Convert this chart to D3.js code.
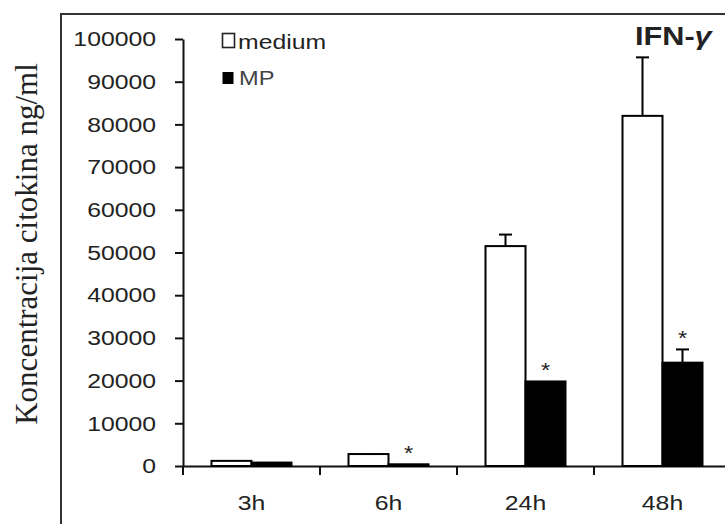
<!DOCTYPE html>
<html>
<head>
<meta charset="utf-8">
<script src="https://cdn.jsdelivr.net/npm/d3@7"></script>
<style>
  body { margin: 0; background: #fff; }
  text { font-family: Arial, "Liberation Sans", sans-serif; fill: #222; }
</style>
</head>
<body>
<div id="chart"></div>
<script>
// ------------------------------------------------------------------------ //
// DATA
// ------------------------------------------------------------------------ //
var categories = ["3h", "6h", "24h", "48h"]
var series = ["medium", "MP"]
var mediumValues = [1200, 2800, 51500, 82000]
var mediumErrors = [200, 200, 2700, 13700]
var mpValues = [800, 400, 19800, 24200]
var mpErrors = [100, 100, 0, 3100]
var mpSignificant = [false, true, true, true]
var yTicks = [0, 10000, 20000, 30000, 40000, 50000, 60000, 70000, 80000, 90000, 100000]

// table for the bars
var bars = []
categories.forEach(function(c, i) {
  bars.push({cat: c, key: "medium", value: mediumValues[i], err: mediumErrors[i], star: false})
  bars.push({cat: c, key: "MP", value: mpValues[i], err: mpErrors[i], star: mpSignificant[i]})
})

// horizontal stretch of the original picture
var sx = 1.18

// ------------------------------------------------------------------------ //
// SVG AREA
// ------------------------------------------------------------------------ //
var W = 725, H = 524
var svg = d3.select("#chart")
  .append("svg")
    .attr("width", W)
    .attr("height", H)

// outer frame (runs off the picture on the right and bottom)
svg.append("rect")
  .attr("x", 61)
  .attr("y", 14)
  .attr("width", 720)
  .attr("height", 560)
  .attr("fill", "none")
  .attr("stroke", "#333")
  .attr("stroke-width", 2)

// ------------------------------------------------------------------------ //
// SCALES
// ------------------------------------------------------------------------ //
var x = d3.scaleBand()
  .domain(categories)
  .range([183, 731])

var xSub = d3.scaleBand()
  .domain(series)
  .range([0, x.bandwidth()])
  .paddingOuter(0.7125)

var y = d3.scaleLinear()
  .domain([0, 100000])
  .range([466, 39])

// ------------------------------------------------------------------------ //
// AXES
// ------------------------------------------------------------------------ //
var yAxis = svg.append("g")
  .attr("transform", "translate(183,0)")
  .call(d3.axisLeft(y).tickValues(yTicks).tickFormat(d3.format("d")).tickSize(8).tickSizeOuter(0))
yAxis.selectAll("path, line").attr("stroke", "#111").attr("stroke-width", 2)
yAxis.selectAll("text")
  .attr("x", 0)
  .attr("transform", "translate(-27,0) scale(" + sx + ",1)")
  .style("font-size", "21px")
  .attr("fill", "#222")

var xAxis = svg.append("g")
  .attr("transform", "translate(0,466)")
  .call(d3.axisBottom(x).tickSize(0).tickSizeOuter(0))
xAxis.select(".domain").attr("stroke", "#111").attr("stroke-width", 2)
xAxis.selectAll("text")
  .attr("y", 0)
  .attr("dy", 0)
  .attr("transform", "translate(0,44) scale(" + sx + ",1)")
  .style("font-size", "21px")
  .attr("fill", "#222")

// tick marks between the groups
xAxis.selectAll(".sepTick")
  .data(categories)
  .enter()
  .append("line")
    .attr("class", "sepTick")
    .attr("x1", function(d) { return x(d) })
    .attr("x2", function(d) { return x(d) })
    .attr("y1", 0)
    .attr("y2", 9)
    .attr("stroke", "#111")
    .attr("stroke-width", 2)

// ------------------------------------------------------------------------ //
// BARS, ERROR BARS, STARS
// ------------------------------------------------------------------------ //
var cx = function(d) { return x(d.cat) + xSub(d.key) + xSub.bandwidth() / 2 }

svg.selectAll(".bar")
  .data(bars)
  .enter()
  .append("rect")
    .attr("class", "bar")
    .attr("x", function(d) { return x(d.cat) + xSub(d.key) })
    .attr("y", function(d) { return y(d.value) })
    .attr("width", xSub.bandwidth())
    .attr("height", function(d) { return y(0) - y(d.value) })
    .attr("fill", function(d) { return d.key == "MP" ? "#000" : "#fff" })
    .attr("stroke", "#000")
    .attr("stroke-width", 2)

var errs = bars.filter(function(d) { return d.err > 0 })

svg.selectAll(".errLine")
  .data(errs)
  .enter()
  .append("line")
    .attr("class", "errLine")
    .attr("x1", cx)
    .attr("x2", cx)
    .attr("y1", function(d) { return y(d.value) })
    .attr("y2", function(d) { return y(d.value + d.err) })
    .attr("stroke", "#000")
    .attr("stroke-width", 2)

svg.selectAll(".errCap")
  .data(errs.filter(function(d) { return d.err > 1000 }))
  .enter()
  .append("line")
    .attr("class", "errCap")
    .attr("x1", function(d) { return cx(d) - 6.5 })
    .attr("x2", function(d) { return cx(d) + 6.5 })
    .attr("y1", function(d) { return y(d.value + d.err) })
    .attr("y2", function(d) { return y(d.value + d.err) })
    .attr("stroke", "#000")
    .attr("stroke-width", 2)

svg.selectAll(".star")
  .data(bars.filter(function(d) { return d.star }))
  .enter()
  .append("text")
    .attr("class", "star")
    .attr("text-anchor", "middle")
    .attr("transform", function(d) {
      return "translate(" + cx(d) + "," + (y(d.value + d.err) - 4) + ") scale(" + sx + ",1)"
    })
    .style("font-size", "20px")
    .text("*")

// ------------------------------------------------------------------------ //
// LEGEND, TITLE, Y LABEL
// ------------------------------------------------------------------------ //
var legend = svg.append("g").attr("transform", "translate(222,33)")
legend.append("rect")
  .attr("x", 0.5).attr("y", 0.5)
  .attr("width", 12).attr("height", 14)
  .attr("fill", "#fff").attr("stroke", "#222").attr("stroke-width", 1.6)
legend.append("text")
  .attr("transform", "translate(16,16) scale(" + sx + ",1)")
  .style("font-size", "21px")
  .text("medium")
legend.append("rect")
  .attr("x", 0.5).attr("y", 39)
  .attr("width", 11).attr("height", 12)
  .attr("fill", "#000")
legend.append("text")
  .attr("transform", "translate(17,52) scale(" + sx + ",1)")
  .style("font-size", "20px")
  .style("fill", "#444")
  .text("MP")

var title = svg.append("text")
  .attr("transform", "translate(635,45) scale(" + sx + ",1)")
  .style("font-size", "26px")
  .style("font-weight", "bold")
title.append("tspan").text("IFN-")
title.append("tspan").style("font-style", "italic").text("γ")

svg.append("text")
  .attr("text-anchor", "middle")
  .attr("transform", "translate(37,244) rotate(-90)")
  .style("font-family", "'Liberation Serif', 'Times New Roman', serif")
  .style("font-size", "31px")
  .text("Koncentracija citokina ng/ml")
</script>
</body>
</html>
